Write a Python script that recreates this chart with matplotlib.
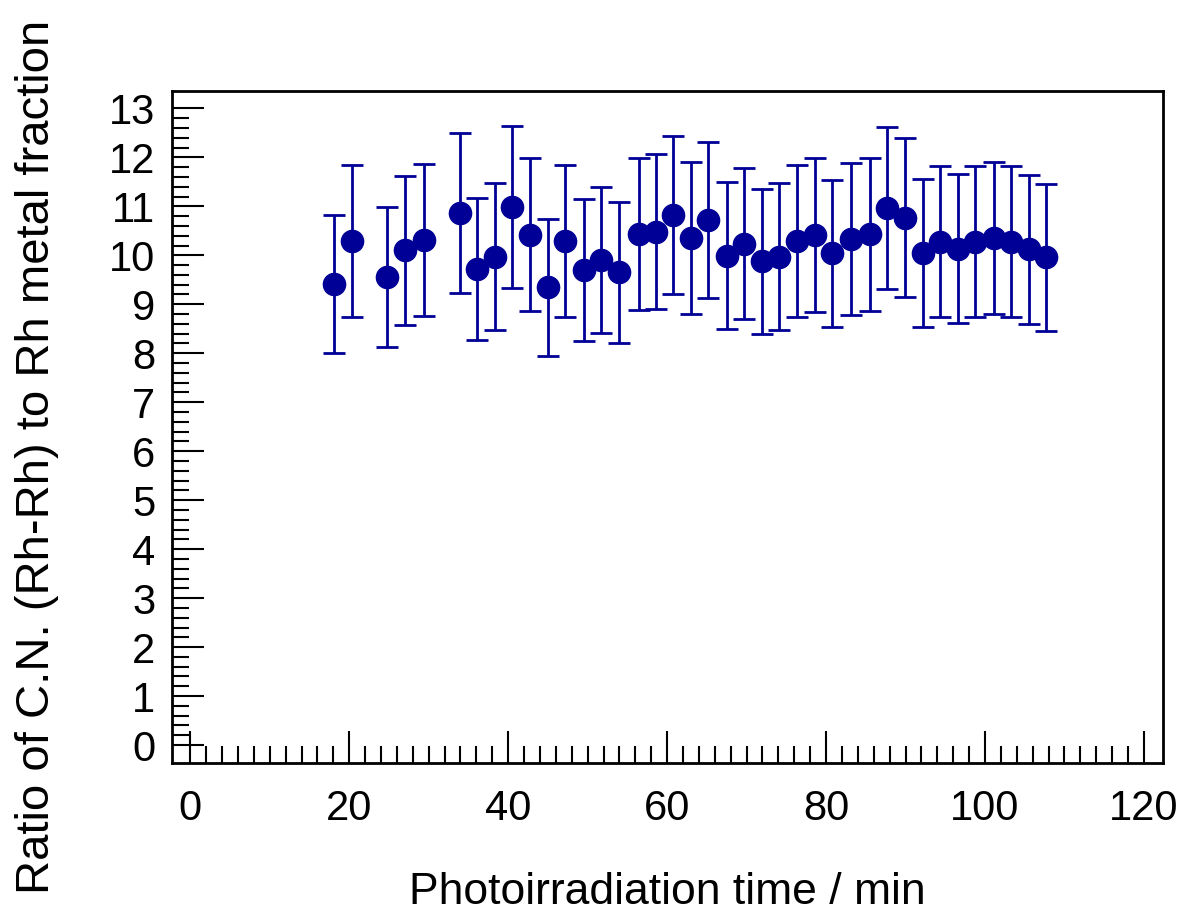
import numpy as np
import matplotlib
matplotlib.use('Agg')
import matplotlib.pyplot as plt
from matplotlib.ticker import FixedLocator

plt.rcParams['font.family'] = ['Liberation Sans', 'DejaVu Sans']

# values
time_min = [18.1, 20.3, 24.7, 27.0, 29.4, 33.9, 36.1, 38.3, 40.5, 42.7,
            45.0, 47.2, 49.5, 51.7, 53.9, 56.5, 58.6, 60.8, 63.0, 65.2,
            67.5, 69.7, 71.9, 74.1, 76.3, 78.6, 80.8, 83.2, 85.5, 87.7,
            89.9, 92.2, 94.3, 96.6, 98.8, 101.1, 103.3, 105.5, 107.7]
ratio = [9.42, 10.30, 9.56, 10.10, 10.32, 10.87, 9.72, 9.97, 10.99, 10.42,
         9.35, 10.30, 9.70, 9.91, 9.65, 10.43, 10.48, 10.82, 10.35, 10.72,
         9.99, 10.24, 9.88, 9.97, 10.30, 10.42, 10.04, 10.33, 10.43, 10.96,
         10.77, 10.05, 10.28, 10.13, 10.28, 10.36, 10.28, 10.12, 9.96]
ratio_err = [1.41, 1.55, 1.43, 1.52, 1.55, 1.63, 1.45, 1.50, 1.65, 1.56,
             1.40, 1.55, 1.45, 1.49, 1.44, 1.55, 1.58, 1.62, 1.55, 1.60,
             1.50, 1.54, 1.48, 1.50, 1.55, 1.57, 1.50, 1.55, 1.56, 1.65,
             1.62, 1.51, 1.54, 1.52, 1.55, 1.55, 1.55, 1.52, 1.50]

color = '#000096'

fig = plt.figure(figsize=(11.87, 9.11), dpi=100)
ax = fig.add_axes([0.1449, 0.1628, 0.9798 - 0.1449, 0.9004 - 0.1628])

ax.errorbar(time_min, ratio, yerr=ratio_err, fmt='o', color=color,
            markersize=16, elinewidth=2, capsize=8, capthick=2)

ax.set_xlim(-2.3, 122.4)
ax.set_ylim(-0.36, 13.36)

ax.xaxis.set_major_locator(FixedLocator(np.arange(0, 121, 20)))
ax.xaxis.set_minor_locator(FixedLocator(np.arange(0, 121, 2)))
ax.yaxis.set_major_locator(FixedLocator(np.arange(0, 14, 1)))
ax.yaxis.set_minor_locator(FixedLocator(np.arange(0, 13.01, 0.2)))

ax.tick_params(which='both', direction='in', top=False, right=False,
               width=1.5, labelsize=30)
ax.tick_params(which='major', length=23)
ax.tick_params(which='minor', length=12)
ax.tick_params(axis='x', pad=19)
ax.tick_params(axis='y', pad=12)

for s in ax.spines.values():
    s.set_linewidth(2)

ax.set_xlabel('Photoirradiation time / min', fontsize=32)
ax.set_ylabel('Ratio of C.N. (Rh-Rh) to Rh metal fraction', fontsize=34)
ax.xaxis.set_label_coords(0.5, -0.162)
ax.yaxis.set_label_coords(-0.114, 0.455)

fig.savefig('out.png', dpi=100)
